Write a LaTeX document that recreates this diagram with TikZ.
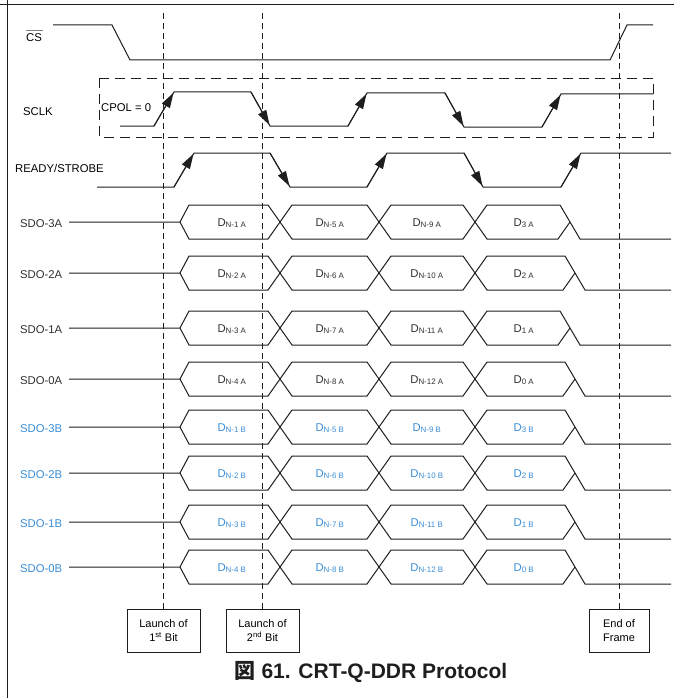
\documentclass[tikz,border=0pt]{standalone}
\usepackage{fontspec}
\setmainfont{Liberation Sans}
\newfontfamily\cjkfont{Noto Sans CJK JP}
\usetikzlibrary{arrows.meta, positioning}
\definecolor{ink}{HTML}{1E1E1E}
\definecolor{txt}{HTML}{303030}
\definecolor{chb}{HTML}{3A8DD6}
\tikzset{
  sig/.style={draw=ink, line width=1pt},
  edg/.style={-{Triangle[length=15pt, width=9pt]}, ink, line width=1pt, shorten >=1pt},
  gd/.style={draw=ink, line width=0.8pt, dash pattern=on 6pt off 4pt},
  bitbox/.style={draw=ink, line width=1pt, minimum width=73pt, minimum height=43pt,
             inner sep=2pt, align=center, font=\fontsize{11}{14.5}\selectfont},
  lb/.style={anchor=base west, inner sep=0pt, font=\fontsize{11.3}{13}\selectfont},
  dl/.style={anchor=base, inner sep=0pt, font=\fontsize{11.3}{13}\selectfont},
}
\newcommand{\dsub}[1]{D\textsubscript{#1}}

\begin{document}
\begin{tikzpicture}[x=1pt, y=-1pt]
  \useasboundingbox (0,0) rectangle (679,698);
  \fill[white] (0,0) rectangle (679,698);
  \draw[sig] (0,5) -- (674,5);
  \draw[sig] (7,0) -- (7,698);

  % marker boxes and guide lines
  \coordinate (g1) at (163.5,13);
  \coordinate (g2) at (262.5,13);
  \coordinate (g3) at (619,13);
  \node[bitbox] (b1) at (163.5,630.5) {Launch of\\1\textsuperscript{st} Bit};
  \node[bitbox] (b2) at (262.5,630.5) {Launch of\\2\textsuperscript{nd} Bit};
  \node[bitbox, minimum width=60pt] (b3) at (619,630.5) {End of\\Frame};
  \draw[gd] (g1) -- (b1.north);
  \draw[gd] (g2) -- (b2.north);
  \draw[gd] (g3) -- (b3.north);

  % CS
  \node[lb] (cs) at (26,42) {\rlap{\color{gray}\rule[10.5pt]{17pt}{1.2pt}}CS};
  \draw[sig] (53,25) -- (112,25) -- (130,60) -- (610,60) -- (627,25) -- (653,25);

  % SCLK
  \node[lb] (sclk) at (23,115) {SCLK};
  \draw[gd, dash pattern=on 10pt off 6pt] (99,78) rectangle (653,137);
  \node[lb] (cpol) at (101,112) {CPOL = 0};
  \draw[sig] (120,126) -- (154,126) -- (174,92) -- (251,92) -- (270,126) -- (348,126)
    -- (367,93) -- (445,93) -- (464,127) -- (542,127) -- (561,94) -- (653,94);
  \draw[edg] (154,126) -- (174,92);
  \draw[edg] (251,92) -- (270,126);
  \draw[edg] (348,126) -- (367,93);
  \draw[edg] (445,93) -- (464,127);
  \draw[edg] (542,127) -- (561,94);

  % READY/STROBE
  \node[lb] (rdy) at (15,172) {READY/STROBE};
  \draw[sig] (97,187) -- (174,187) -- (194,153) -- (270,153) -- (290,187) -- (367,187)
    -- (387,153) -- (464,153) -- (483,187) -- (561,187) -- (581,153) -- (671,153);
  \draw[edg] (174,187) -- (194,153);
  \draw[edg] (270,153) -- (290,187);
  \draw[edg] (367,187) -- (387,153);
  \draw[edg] (464,153) -- (483,187);
  \draw[edg] (561,187) -- (581,153);

  % data lanes
  \foreach \k/\m/\ce/\g/\col in {3/222/570/A/txt, 2/273/575/A/txt, 1/328/570/A/txt,
      0/379/575/A/txt, 3/427/575/B/chb, 2/473/575/B/chb, 1/522/575/B/chb, 0/567/575/B/chb}{
    \pgfmathtruncatemacro{\na}{4-\k}
    \pgfmathtruncatemacro{\nb}{8-\k}
    \pgfmathtruncatemacro{\nc}{12-\k}
    \node[lb, text=\col] (sdo\k\g) at (20,\m+5) {SDO-\k\g};
    \draw[sig] (69,\m) -- (180,\m) -- (189,\m-17) -- (268,\m-17) -- (292,\m+17) -- (367,\m+17)
      -- (391,\m-17) -- (463,\m-17) -- (487,\m+17) -- (\ce-12,\m+17) -- (\ce,\m);
    \draw[sig] (180,\m) -- (189,\m+17) -- (268,\m+17) -- (292,\m-17) -- (367,\m-17)
      -- (391,\m+17) -- (463,\m+17) -- (487,\m-17) -- (\ce-10,\m-17) -- (\ce+10,\m+17) -- (671,\m+17);
    \node[dl, text=\col] (d\k\g a) at (232,\m+4) {\dsub{N-\na\ \g}};
    \node[dl, text=\col] (d\k\g b) at (330,\m+4) {\dsub{N-\nb\ \g}};
    \node[dl, text=\col] (d\k\g c) at (427,\m+4) {\dsub{N-\nc\ \g}};
    \node[dl, text=\col] (d\k\g d) at (524,\m+4) {\dsub{\k\ \g}};
  }

  \node[text=ink] (cap) at (371,672) {\fontsize{21}{25}\selectfont\bfseries{\cjkfont 図} 61. CRT-Q-DDR Protocol};
\end{tikzpicture}
\end{document}
